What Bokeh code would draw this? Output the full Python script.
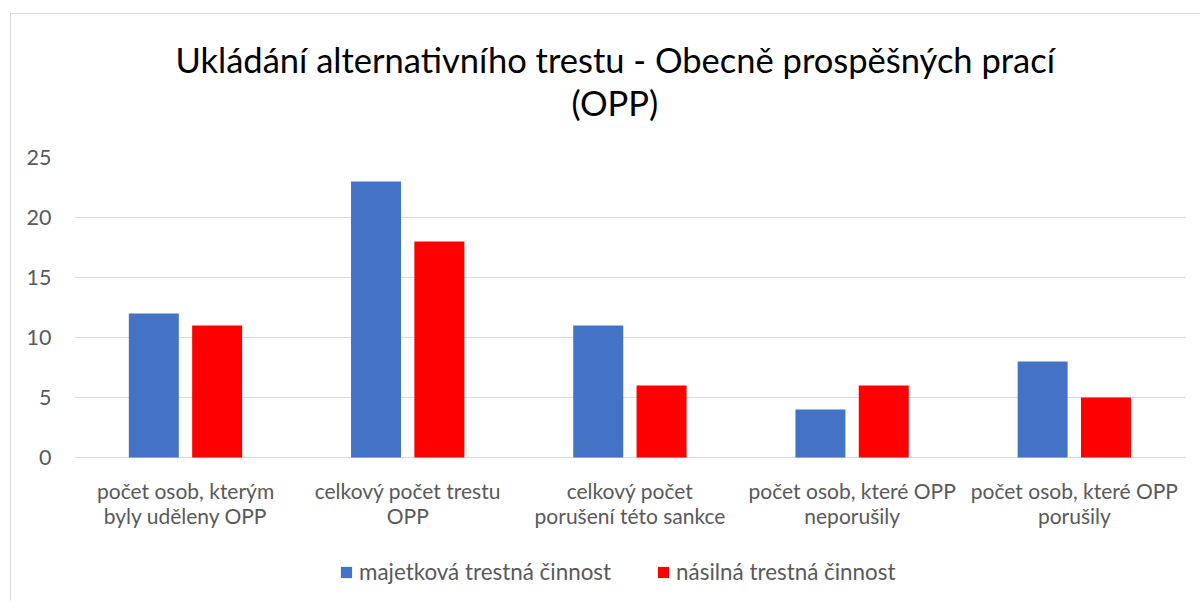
from bokeh.plotting import figure
from bokeh.models import ColumnDataSource, Range1d, FactorRange, FixedTicker, Legend, LegendItem, Title
from bokeh.transform import dodge
from bokeh.embed import file_html
from bokeh.resources import INLINE

categories = [
    "počet osob, kterým\nbyly uděleny OPP",
    "celkový počet trestu\nOPP",
    "celkový počet\nporušení této sankce",
    "počet osob, které OPP\nneporušily",
    "počet osob, které OPP\nporušily",
]
majetkova = [12, 23, 11, 4, 8]
nasilna = [11, 18, 6, 6, 5]
series_names = ["majetková trestná činnost", "násilná trestná činnost"]
y_ticks = [0, 5, 10, 15, 20, 25]
title_line1 = "Ukládání alternativního trestu - Obecně prospěšných prací"
title_line2 = "(OPP)"

FONT = "Lato"
TEXT_COLOR = "#595959"
GRID_COLOR = "#d9d9d9"
BLUE = "#4472C4"
RED = "#FF0000"

source = ColumnDataSource(data=dict(cat=categories, maj=majetkova, nas=nasilna))

# frame spans from the 25 gridline down to the bottom of the canvas (legend lives inside it);
# 12 px per unit -> 445 px tall frame
p = figure(
    x_range=FactorRange(*categories, range_padding=0),
    y_range=Range1d(-445 / 12 + 25, 25),
    width=1190, height=588,
    output_backend="svg", toolbar_location=None,
    min_border_left=63, min_border_right=16, min_border_top=143, min_border_bottom=0,
    margin=(13, 0, 0, 10),
    styles={"border-left": "1px solid #d9d9d9", "border-top": "1px solid #d9d9d9"},
)
p.outline_line_color = None
p.background_fill_color = "white"
p.border_fill_color = "white"

p.title = Title(text=title_line1, align="left", offset=101, text_font=FONT, text_font_size="34.5px",
                text_color="black", text_font_style="normal", standoff=0)
p.add_layout(Title(text=" ", text_font_size="10px", standoff=22), "above")
p.add_layout(Title(text=title_line2, align="left", offset=497, text_font=FONT, text_font_size="34.5px",
                   text_color="black", text_font_style="normal", standoff=0), "above")

r1 = p.vbar(x=dodge("cat", -0.143, range=p.x_range), top="maj", width=0.225, source=source,
            fill_color=BLUE, line_color=None)
r2 = p.vbar(x=dodge("cat", 0.142, range=p.x_range), top="nas", width=0.225, source=source,
            fill_color=RED, line_color=None)

p.xgrid.grid_line_color = None
p.ygrid.ticker = FixedTicker(ticks=y_ticks)
p.ygrid.grid_line_color = GRID_COLOR
p.ygrid.grid_line_width = 1

p.yaxis.ticker = FixedTicker(ticks=y_ticks)
p.yaxis.axis_line_color = None
p.yaxis.major_tick_line_color = None
p.yaxis.minor_tick_line_color = None
p.yaxis.major_label_text_font = FONT
p.yaxis.major_label_text_font_size = "21.5px"
p.yaxis.major_label_text_color = TEXT_COLOR
p.yaxis.major_label_standoff = 17

p.xaxis.fixed_location = 0
p.xaxis.axis_line_color = None
p.xaxis.major_tick_line_color = None
p.xaxis.minor_tick_line_color = None
p.xaxis.major_label_text_font = FONT
p.xaxis.major_label_text_font_size = "21px"
p.xaxis.major_label_text_color = TEXT_COLOR
p.xaxis.major_label_text_line_height = 1.0
p.xaxis.major_label_standoff = 14

legend = Legend(
    items=[LegendItem(label=series_names[0], renderers=[r1]),
           LegendItem(label=series_names[1], renderers=[r2])],
    orientation="horizontal", location=(265, 17),
    padding=0, margin=0, spacing=45,
    glyph_width=14, glyph_height=14, label_standoff=6,
    label_text_font=FONT, label_text_font_size="22.4px", label_text_color=TEXT_COLOR,
    border_line_color=None, background_fill_alpha=0,
)
p.add_layout(legend, "center")

open("out.html", "w").write(file_html(p, INLINE))
